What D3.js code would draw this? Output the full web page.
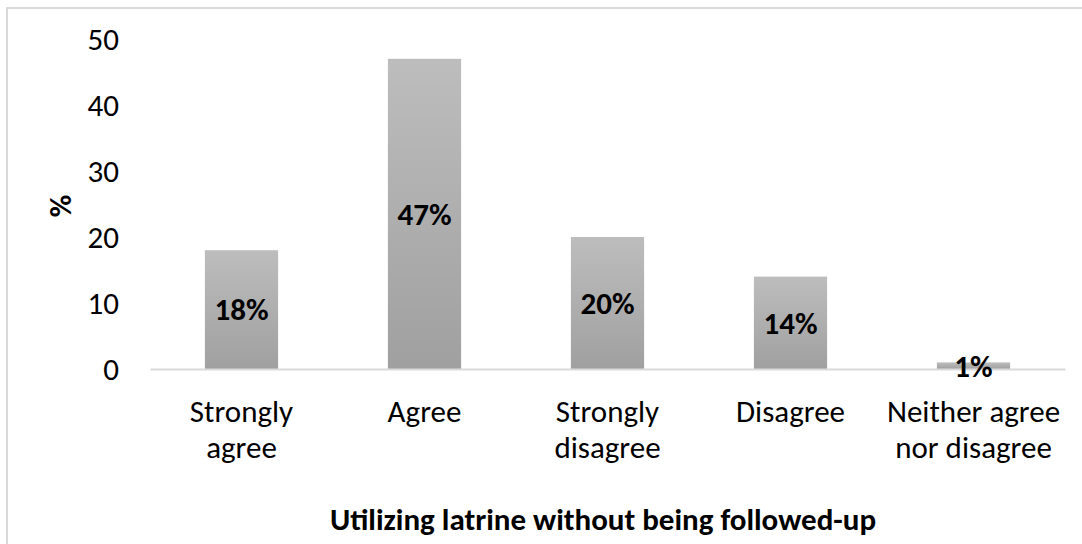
<!DOCTYPE html>
<html>
<head>
<meta charset="utf-8">
<script src="https://cdn.jsdelivr.net/npm/d3@7"></script>
<style>
  html, body { margin: 0; padding: 0; background: #fff; }
  svg { display: block; font-family: Carlito, Calibri, Lato, sans-serif; }
</style>
</head>
<body>
<svg id="chart" width="1082" height="544"></svg>
<script>
// Survey responses: utilizing latrine without being followed-up
const categories = ["Strongly agree", "Agree", "Strongly disagree", "Disagree", "Neither agree nor disagree"];
const categoryLines = [["Strongly", "agree"], ["Agree"], ["Strongly", "disagree"], ["Disagree"], ["Neither agree", "nor disagree"]];
const percents = [18, 47, 20, 14, 1];
const yTicks = [0, 10, 20, 30, 40, 50];
const xTitle = "Utilizing latrine without being followed-up";
const yTitle = "%";

const svg = d3.select("#chart");
const W = 1082, H = 544;
const plot = { left: 150, right: 1065, top: 39, bottom: 369 };
const FS = 31;

// chart frame
svg.append("rect")
  .attr("x", 7).attr("y", 8)
  .attr("width", W + 10).attr("height", H + 10)
  .attr("fill", "#fff").attr("stroke", "#d9d9d9").attr("stroke-width", 2);

const defs = svg.append("defs");
const grad = defs.append("linearGradient")
  .attr("id", "barFill").attr("x1", 0).attr("y1", 0).attr("x2", 0).attr("y2", 1);
grad.append("stop").attr("offset", "0%").attr("stop-color", "#bdbdbd");
grad.append("stop").attr("offset", "100%").attr("stop-color", "#a0a0a0");

const x = d3.scaleBand()
  .domain(categories)
  .range([plot.left, plot.right])
  .paddingInner(0.6)
  .paddingOuter(0.3);

const y = d3.scaleLinear().domain([0, 50]).range([plot.bottom, plot.top]);

// y axis: labels only
const yAxis = svg.append("g")
  .attr("transform", `translate(${plot.left - 31},0)`)
  .call(d3.axisLeft(y).tickValues(yTicks).tickSize(0).tickPadding(0).tickFormat(d3.format("d")));
yAxis.select(".domain").remove();
yAxis.selectAll("text")
  .attr("font-family", "Carlito, Calibri, Lato, sans-serif")
  .attr("font-size", FS)
  .attr("fill", "#000")
  .attr("dy", "0.35em");

// bars
svg.append("g").selectAll("rect")
  .data(percents)
  .join("rect")
  .attr("x", (d, i) => x(categories[i]))
  .attr("y", d => y(d))
  .attr("width", x.bandwidth())
  .attr("height", d => y(0) - y(d))
  .attr("fill", "url(#barFill)");

// x axis baseline
const xAxis = svg.append("g")
  .attr("transform", `translate(0,${plot.bottom})`)
  .call(d3.axisBottom(x).tickSize(0).tickFormat(""));
xAxis.select(".domain").attr("stroke", "#d9d9d9").attr("stroke-width", 2);

// category labels
const catG = svg.append("g");
categories.forEach((c, i) => {
  const t = catG.append("text")
    .attr("x", x(c) + x.bandwidth() / 2)
    .attr("y", 422)
    .attr("text-anchor", "middle")
    .attr("font-size", FS)
    .attr("fill", "#000");
  categoryLines[i].forEach((line, j) => {
    t.append("tspan")
      .attr("x", x(c) + x.bandwidth() / 2)
      .attr("dy", j === 0 ? 0 : 36)
      .text(line);
  });
});

// value labels in bar centres
svg.append("g").selectAll("text")
  .data(percents)
  .join("text")
  .attr("x", (d, i) => x(categories[i]) + x.bandwidth() / 2)
  .attr("y", d => (y(d) + y(0)) / 2)
  .attr("dy", "0.35em")
  .attr("text-anchor", "middle")
  .attr("font-size", FS)
  .attr("font-weight", "bold")
  .attr("fill", "#000")
  .text(d => d + "%");

// axis titles
svg.append("text")
  .attr("transform", "translate(71,206) rotate(-90)")
  .attr("text-anchor", "middle")
  .attr("font-size", FS)
  .attr("font-weight", "bold")
  .text(yTitle);

svg.append("text")
  .attr("x", 603)
  .attr("y", 530)
  .attr("text-anchor", "middle")
  .attr("font-size", FS)
  .attr("font-weight", "bold")
  .text(xTitle);
</script>
</body>
</html>
